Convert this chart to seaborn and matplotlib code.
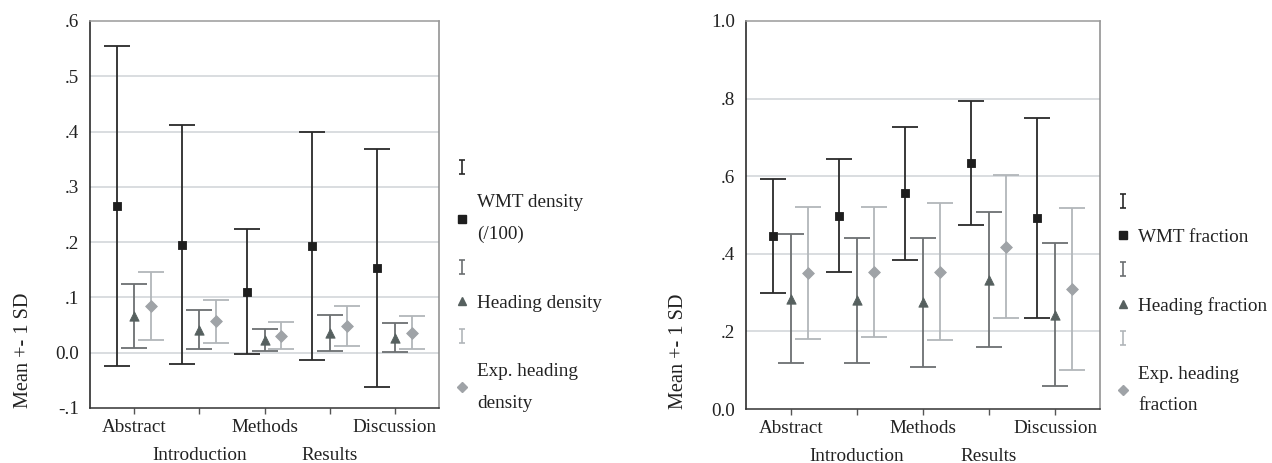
import numpy as np
import pandas as pd
import matplotlib
matplotlib.use("Agg")
import matplotlib.pyplot as plt
from matplotlib.lines import Line2D
from matplotlib.path import Path
import seaborn as sns

# ---------------- data ----------------
categories = ["Abstract", "Introduction", "Methods", "Results", "Discussion"]

# left panel: densities (mean, sd)
wmt_density_mean = [0.265, 0.195, 0.110, 0.193, 0.153]
wmt_density_sd = [0.289, 0.216, 0.113, 0.206, 0.215]
heading_density_mean = [0.0665, 0.0415, 0.023, 0.0365, 0.0275]
heading_density_sd = [0.0585, 0.0355, 0.019, 0.0325, 0.0255]
exp_density_mean = [0.0845, 0.0565, 0.031, 0.049, 0.0365]
exp_density_sd = [0.0615, 0.0395, 0.025, 0.0364, 0.0305]

# right panel: fractions (mean, sd)
wmt_fraction_mean = [0.4465, 0.4985, 0.556, 0.633, 0.492]
wmt_fraction_sd = [0.1475, 0.1465, 0.171, 0.160, 0.258]
heading_fraction_mean = [0.2845, 0.280, 0.275, 0.333, 0.2435]
heading_fraction_sd = [0.1655, 0.161, 0.166, 0.174, 0.1835]
exp_fraction_mean = [0.350, 0.3525, 0.354, 0.418, 0.3085]
exp_fraction_sd = [0.170, 0.1675, 0.176, 0.184, 0.2085]

left_labels = ["WMT density\n(/100)", "Heading density", "Exp. heading\ndensity"]
right_labels = ["WMT fraction", "Heading fraction", "Exp. heading\nfraction"]

left_yticks = [-0.1, 0.0, 0.1, 0.2, 0.3, 0.4, 0.5, 0.6]
left_yticklabels = ["-.1", "0.0", ".1", ".2", ".3", ".4", ".5", ".6"]
right_yticks = [0.0, 0.2, 0.4, 0.6, 0.8, 1.0]
right_yticklabels = ["0.0", ".2", ".4", ".6", ".8", "1.0"]

# ---------------- style ----------------
sns.set_theme(style="white")
plt.rcParams["font.family"] = ["Liberation Serif", "DejaVu Serif"]
FS = 13.8
TXT = "#222222"

offsets = [-0.27, 0.0, 0.26]
marker_styles = [
    dict(marker="s", color="#1e1e1e", size=40),
    dict(marker="^", color="#56605f", size=45),
    dict(marker="D", color="#9fa3a7", size=36),
]
bar_colors = ["#2a2a2a", "#6c7072", "#b2b6ba"]

# I-shaped glyph for legend
ipath = Path([(-0.4, -1), (0.4, -1), (0, -1), (0, 1), (-0.4, 1), (0.4, 1)],
             [Path.MOVETO, Path.LINETO, Path.MOVETO, Path.LINETO, Path.MOVETO, Path.LINETO])

fig = plt.figure(figsize=(12.72, 4.63), dpi=100)
ax_l = fig.add_axes([90 / 1272, 55 / 463, 349 / 1272, 387 / 463])
ax_r = fig.add_axes([746 / 1272, 54 / 463, 354 / 1272, 388 / 463])


def draw_panel(ax, means, sds, yticks, yticklabels, ylim):
    xidx = np.arange(len(categories))
    for k, (m, s) in enumerate(zip(means, sds)):
        xpos = xidx + offsets[k]
        ax.errorbar(xpos, m, yerr=s, fmt="none", ecolor=bar_colors[k],
                    elinewidth=1.3, capsize=9.5, capthick=1.3, zorder=2)
        df = pd.DataFrame({"x": xpos, "y": m})
        st = marker_styles[k]
        sns.scatterplot(data=df, x="x", y="y", ax=ax, marker=st["marker"],
                        color=st["color"], s=st["size"], edgecolor=st["color"],
                        linewidth=0.6, zorder=3, legend=False)
    ax.set_xlim(-0.68, len(categories) - 1 + 0.68)
    ax.set_ylim(*ylim)
    ax.set_yticks(yticks)
    ax.set_yticklabels(yticklabels, fontsize=FS, color=TXT)
    # staggered category labels: even ones on the first row, odd ones on the second
    ax.set_xticks(xidx[0::2])
    ax.set_xticklabels(categories[0::2], fontsize=FS, color=TXT)
    ax.set_xticks(xidx[1::2], minor=True)
    ax.set_xticklabels(categories[1::2], minor=True, fontsize=FS, color=TXT)
    ax.tick_params(axis="y", which="both", length=0, pad=8)
    ax.tick_params(axis="x", which="major", length=4, width=1, color="#555555",
                   pad=4, bottom=True, direction="out")
    ax.tick_params(axis="x", which="minor", length=4, width=1, color="#555555",
                   pad=24, bottom=True, direction="out")
    ax.set_xlabel("")
    ax.set_ylabel("Mean +- 1 SD", fontsize=FS + 0.8, color=TXT, loc="bottom")
    ax.yaxis.set_label_coords(-0.163, 0.0)
    for yv in yticks[1:-1]:
        ax.axhline(yv, color="#cfd3d7", lw=1.1, zorder=0)
    ax.spines["left"].set_color("#1a1a1a")
    ax.spines["bottom"].set_color("#333333")
    ax.spines["top"].set_color("#9a9a9a")
    ax.spines["right"].set_color("#8a8a8a")
    for sp in ax.spines.values():
        sp.set_linewidth(1.1)
    ax.grid(False)


draw_panel(ax_l, [wmt_density_mean, heading_density_mean, exp_density_mean],
           [wmt_density_sd, heading_density_sd, exp_density_sd],
           left_yticks, left_yticklabels, (-0.1, 0.6))
draw_panel(ax_r, [wmt_fraction_mean, heading_fraction_mean, exp_fraction_mean],
           [wmt_fraction_sd, heading_fraction_sd, exp_fraction_sd],
           right_yticks, right_yticklabels, (0.0, 1.0))


def make_legend(labels, anchor):
    handles, texts = [], []
    for k, lab in enumerate(labels):
        handles.append(Line2D([], [], linestyle="none", marker=ipath, markersize=10,
                              markerfacecolor="none", markeredgecolor=bar_colors[k],
                              markeredgewidth=1.2))
        texts.append("")
        st = marker_styles[k]
        handles.append(Line2D([], [], linestyle="none", marker=st["marker"],
                              markersize=5.5, color=st["color"]))
        texts.append(lab)
    leg = fig.legend(handles, texts, loc="upper left", bbox_to_anchor=anchor,
                     frameon=False, fontsize=FS, handlelength=1.0, handletextpad=0.3,
                     labelspacing=0.88, borderpad=0, borderaxespad=0)
    for t in leg.get_texts():
        t.set_color(TXT)
        t.set_linespacing(2.12)
    return leg


make_legend(left_labels, (452 / 1272, 1 - 160 / 463))
make_legend(right_labels, (1113 / 1272, 1 - 194 / 463))

fig.savefig("out.png", dpi=100)
